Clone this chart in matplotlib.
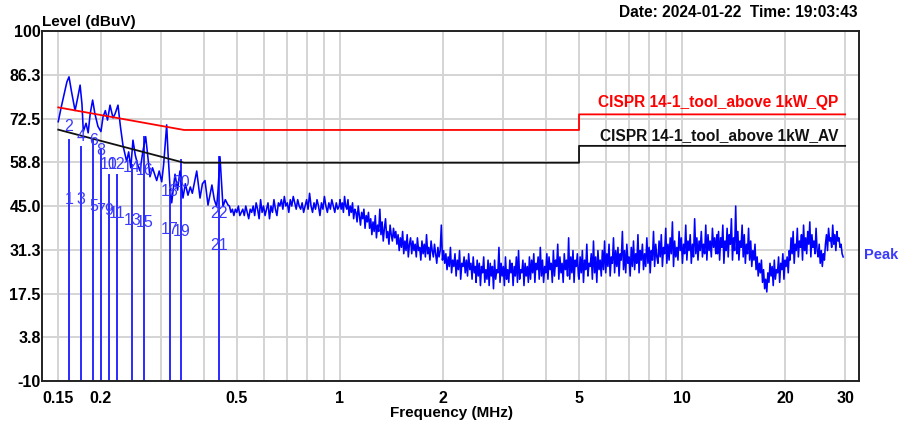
import matplotlib
matplotlib.use("Agg")
import matplotlib.pyplot as plt
import matplotlib.transforms as mtransforms
import numpy as np

plt.rcParams['font.family'] = ['Liberation Sans', 'DejaVu Sans']

# ---- data ----
# low band 0.15 - 0.47 MHz (freq, level)
low_f = [0.150, 0.153, 0.156, 0.159, 0.1613, 0.164, 0.168, 0.171, 0.1738, 0.176,
         0.1776, 0.1809, 0.1835, 0.186, 0.1891, 0.192, 0.196, 0.200, 0.2028, 0.206,
         0.209, 0.2126, 0.2169, 0.220, 0.2243, 0.228, 0.232, 0.2378, 0.241, 0.2445,
         0.2481, 0.252, 0.256, 0.2602, 0.265, 0.2703, 0.2745, 0.2782, 0.283, 0.287,
         0.2911, 0.296, 0.3011, 0.305, 0.309, 0.3113, 0.314, 0.3184, 0.322, 0.3293,
         0.335, 0.3404, 0.3474, 0.353, 0.3593, 0.365, 0.370, 0.3811, 0.3897, 0.396,
         0.4030, 0.4112, 0.4222, 0.429, 0.4359, 0.440, 0.4457, 0.4548, 0.462, 0.4706]
low_v = [71.5, 76, 80, 84, 85.6, 81, 75, 79, 83, 77,
         68.4, 71, 68, 74, 78.3, 74, 70, 68.4, 73, 75,
         72, 76.7, 72.7, 74, 76.7, 70, 64, 59, 62, 57,
         65.7, 61, 58, 56, 62, 66.8, 60, 54.2, 57, 55,
         53, 56, 52.6, 58, 66, 70.5, 62, 51, 46, 55,
         50, 56, 47.5, 52, 48.4, 51, 49, 56, 47.5, 52,
         53, 45.3, 51.6, 47, 44.8, 50, 60.5, 44.8, 47, 45.3]

# sweep segments above 0.47 MHz: (start MHz, stop MHz) and levels in dBuV
seg_a_span = (0.475, 0.995)
seg_a = [45, 43, 44, 42, 44, 43, 45, 42, 43, 44, 42, 45, 43, 41, 44, 43,
         45, 42, 46, 44, 41, 47, 43, 45, 42, 44, 46, 41, 45, 43, 47, 44, 42, 46, 45,
         47, 44, 48, 45, 46, 43, 47, 45, 48, 46, 44, 47, 45,
         44, 46, 43, 45, 47, 44, 49, 45, 43, 46, 44, 47, 45, 42, 46, 44, 48, 45, 43, 46, 44, 47, 45, 43, 46, 44, 45]
seg_b_span = (1.0, 2.49)
seg_b = [47, 44, 46, 43, 48, 45, 44, 47, 42, 45, 43, 46, 41, 44, 43, 40, 45, 42, 39, 43, 41, 44, 38, 42, 40, 43,
         38, 41, 36, 40, 37, 42, 35, 39, 37, 44, 36, 40, 34, 38, 41, 35, 37, 33, 39, 36, 34, 38, 35, 37,
         33, 36, 31, 35, 32, 37, 30, 34, 31, 36, 29, 33, 35, 30, 34, 31, 33, 29, 35, 31,
         32, 28, 34, 30, 33, 29, 36, 30, 32, 28, 34, 31, 29, 33, 30, 27, 32, 29, 31, 39, 28,
         31, 27, 30, 25, 29, 26, 32, 24, 28, 26, 30, 23, 28, 25, 31, 22, 27, 26, 29, 24,
         28, 23, 30, 25, 27, 22, 29, 24, 26]
seg_c_span = (2.5, 4.98)
seg_c = [21, 28, 23, 27, 20, 26, 24, 29, 21, 25, 22, 28, 20, 27, 23, 26, 19, 28, 22, 25,
         24, 32, 21, 27, 23, 26, 20, 29, 22, 25, 21, 28, 24, 27, 20, 26, 23, 29, 21, 31,
         22, 25, 24, 28, 20, 27, 23, 26, 21, 29,
         22, 28, 24, 30, 21, 27, 25, 29, 22, 32, 23, 28, 21, 26, 24, 30, 22, 29, 25, 27,
         21, 31, 23, 28, 26, 33, 22, 29, 24, 27, 21, 30, 25, 28, 23, 35, 22, 29, 24, 31,
         21, 28, 26, 30, 23]
seg_d_span = (5.0, 12.65)
seg_d = [22, 29, 24, 31, 21, 28, 25, 33, 23, 27, 26, 30, 22, 34, 24, 29, 21, 31, 25,
         28, 23, 31, 25, 34, 24, 30, 26, 33, 23, 29, 27, 35, 24, 31, 26, 32, 23, 30, 28,
         37, 25, 31, 24, 33, 27, 29, 23, 32, 26, 34, 25, 30, 27, 36, 24, 31, 28, 33, 25,
         30, 26, 35, 27, 32, 24, 31, 28, 37, 26, 33, 29,
         27, 34, 29, 36, 26, 32, 30, 38, 27, 33, 28, 35, 30, 40, 26, 34, 29, 32, 28, 37,
         31, 35, 27, 33, 30, 39, 28, 34, 31, 36, 27, 33, 29, 41, 30, 35, 28, 34, 31, 37,
         29, 33, 30, 39, 28, 36, 31, 34, 29, 38, 32, 35, 30, 36]
seg_e_span = (12.7, 20.6)
seg_e = [30, 37, 28, 35, 32, 39, 27, 34, 31, 38, 29, 36, 33, 41, 28, 35, 31, 45, 30, 37,
         28, 34, 32, 39, 29, 36, 27, 33, 30, 38, 28,
         34, 26, 31, 28, 33, 25, 29, 23, 27, 24, 28, 21, 25, 19, 22,
         18, 24, 21, 27, 23, 26, 20, 28, 22, 25, 24, 29, 21, 27, 25, 30, 22, 28, 26, 29, 24, 31]
seg_f_span = (20.7, 29.6)
seg_f = [28, 35, 30, 37, 27, 33, 31, 38, 29, 34, 32, 36, 28, 39, 31, 35, 30, 37, 33, 40,
         29, 36, 32, 34, 30, 38, 31,
         29, 33, 27, 31, 26, 30, 28,
         33, 36, 31, 38, 34, 35, 32, 39, 33, 36, 31, 37, 34, 35, 32, 33, 30, 29]

# limit lines
qp_f = [0.15, 0.35, 5.0, 5.0, 30.0]
qp_v = [76.0, 68.9, 68.9, 73.8, 73.8]
av_f = [0.15, 0.35, 5.0, 5.0, 30.0]
av_v = [69.0, 58.6, 58.6, 63.9, 63.9]

# markers (final measurement): frequency, line top, label levels
mk_freq = [0.1613, 0.1746, 0.1900, 0.2000, 0.2112, 0.2224, 0.2468, 0.2680, 0.3173, 0.3432, 0.4438]
mk_top = [65.7, 63.6, 65.7, 62.6, 54.7, 54.7, 57.9, 66.8, 50.0, 59.5, 60.5]
qp_lbl = [69.9, 66.8, 65.7, 62.6, 58.1, 58.1, 57.0, 56.3, 49.5, 52.4, 42.7]
av_lbl = [47.1, 47.2, 45.0, 43.5, 43.5, 42.7, 40.6, 39.8, 37.5, 37.0, 32.7]

yticks = [-10, 3.8, 17.5, 31.3, 45, 58.8, 72.5, 86.3, 100]
ytick_labels = ['-10', '3.8', '17.5', '31.3', '45.0', '58.8', '72.5', '86.3', '100']
xticks = [0.15, 0.2, 0.5, 1, 2, 5, 10, 20, 30]
xtick_labels = ['0.15', '0.2', '0.5', '1', '2', '5', '10', '20', '30']
xminor = [0.3, 0.4, 0.6, 0.7, 0.8, 0.9, 3, 4, 6, 7, 8, 9]

# ---- build trace ----
freq = list(low_f)
level = list(low_v)
for span, vals in [(seg_a_span, seg_a), (seg_b_span, seg_b), (seg_c_span, seg_c),
                   (seg_d_span, seg_d), (seg_e_span, seg_e), (seg_f_span, seg_f)]:
    freq += list(np.geomspace(span[0], span[1], len(vals)))
    level += vals

fig = plt.figure(figsize=(9.02, 4.26), dpi=100)
ax = fig.add_axes([0.0466, 0.1056, 0.9057, 0.8216])

ax.set_xscale('log')
ax.set_xlim(0.1345, 32.93)
ax.set_ylim(-10, 100)

ax.set_xticks(xticks)
ax.set_xticklabels(xtick_labels)
ax.set_xticks(xminor, minor=True)
ax.set_xticklabels([], minor=True)
ax.set_yticks(yticks)
ax.set_yticklabels(ytick_labels)
ax.tick_params(which='both', length=0)
ax.tick_params(axis='x', pad=7, labelsize=11.5)
ax.tick_params(axis='y', pad=1, labelsize=11.5)
for lab in ax.get_xticklabels() + ax.get_yticklabels():
    lab.set_fontweight('bold')

ax.grid(True, which='both', color='#d4d4d4', linewidth=1.4)
ax.set_axisbelow(True)
for sp in ax.spines.values():
    sp.set_linewidth(1.4)
    sp.set_color('#222222')

# marker lines
for f, top in zip(mk_freq, mk_top):
    ax.plot([f, f], [-10, top], color='#2a2aff', linewidth=1.4, zorder=2)

ax.plot(freq, level, color='#0000ff', linewidth=1.15, zorder=3)
ax.plot(qp_f, qp_v, color='#ff0000', linewidth=1.3, zorder=4)
ax.plot(av_f, av_v, color='#111111', linewidth=1.3, zorder=4)

for i, f in enumerate(mk_freq):
    ax.text(f, qp_lbl[i], str(2 * i + 2), color='#3a3aff', fontsize=11.5,
            ha='center', va='center', zorder=5)
    ax.text(f, av_lbl[i], str(2 * i + 1), color='#3a3aff', fontsize=11.5,
            ha='center', va='center', zorder=5)

ax.text(28.6, 77.4, 'CISPR 14-1_tool_above 1kW_QP', color='#ff0000', fontsize=11.2,
        fontweight='bold', ha='right', va='center')
ax.text(28.6, 67.0, 'CISPR 14-1_tool_above 1kW_AV', color='#111111', fontsize=11.2,
        fontweight='bold', ha='right', va='center')

trans = mtransforms.blended_transform_factory(ax.transAxes, ax.transData)
ax.text(1.006, 29.6, 'Peak', color='#3a3aff', fontsize=10.5, fontweight='bold',
        ha='left', va='center', transform=trans, clip_on=False)

fig.text(0.047, 0.949, 'Level (dBuV)', fontsize=11, fontweight='bold', ha='left', va='center')
fig.text(0.951, 0.970, 'Date: 2024-01-22  Time: 19:03:43', fontsize=11.2, fontweight='bold',
         ha='right', va='center')
fig.text(0.5, 0.030, 'Frequency (MHz)', fontsize=11, fontweight='bold', ha='center', va='center')

fig.savefig('out.png', dpi=100)
